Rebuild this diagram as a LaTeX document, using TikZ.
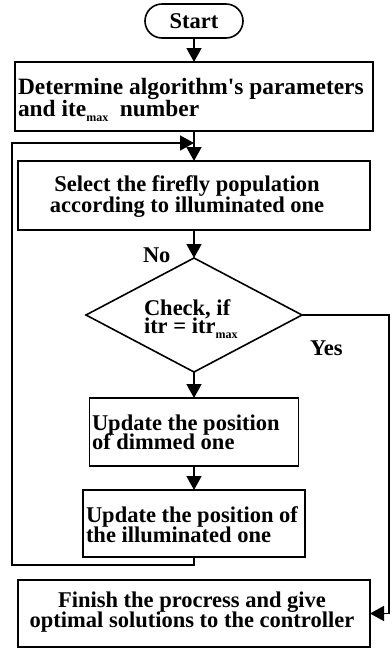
\documentclass[tikz,border=0pt]{standalone}
\usepackage{fontspec}
\setmainfont{Liberation Serif}[Ligatures=TeXOff]
\usetikzlibrary{arrows.meta,shapes.geometric,shapes.misc}
% bold text at a fixed size with an exact line spacing
\newcommand\flowfont[2][22.5]{\bfseries\fontsize{#1}{#2}\selectfont\lineskiplimit=-50pt\lineskip=0pt}
\newcommand\lowsub[1]{\raisebox{-5pt}{\fontsize{12}{12}\selectfont #1}}
\begin{document}
\begin{tikzpicture}[x=1pt,y=-1pt,line width=1.6pt,
  box/.style={draw,rectangle,inner sep=0pt,outer sep=0pt},
  term/.style={draw,rounded rectangle,inner sep=0pt,outer sep=0pt,
    minimum width=98pt,minimum height=34pt,font=\flowfont{22}},
  decision/.style={draw,diamond,inner sep=0pt,outer sep=0pt},
  txt/.style={inner sep=0pt,outer sep=0pt,font=\flowfont{#1}},
  txt/.default=20,
  arr/.style={-{Triangle[length=14pt,width=15pt]}}]
\useasboundingbox (0,0) rectangle (391,648);

% process blocks
\node[term] (start) at (194,21) {Start};
\node[box,minimum width=358pt,minimum height=69pt] (b1) at (194,96.5) {};
\node[box,minimum width=352pt,minimum height=69pt] (b2) at (194,195.5) {};
\node[decision,minimum width=216pt,minimum height=114pt] (dia) at (194,315) {};
\node[box,minimum width=209pt,minimum height=68pt] (b3) at (194,432) {};
\node[box,minimum width=222pt,minimum height=67pt] (b4) at (194,523.5) {};
\node[box,minimum width=352pt,minimum height=67pt] (b5) at (194,613.5) {};

% block texts (placed by the baseline of their last line)
\node[txt,font={\flowfont[23.4]{22}},anchor=base west,align=left] (t1) at (18,116)
  {Determine algorithm's parameters\\and ite\lowsub{max}\ \ number};
\node[txt=21,anchor=base,align=center] (t2) at (187,212)
  {Select the firefly population\\according to illuminated one};
\node[txt=18,anchor=base west,align=left] (t3) at (144,333)
  {Check, if\\itr = itr\lowsub{max}};
\node[txt=19,anchor=base west,align=left] (t4) at (92,449)
  {Update the position\\of dimmed one};
\node[txt=20,anchor=base west,align=left] (t5) at (86,542)
  {Update the position of\\the illuminated one};
\node[txt=20,anchor=base,align=center] (t6) at (192,627)
  {Finish the procress and give\\optimal solutions to the controller};

% branch labels
\node[txt,anchor=base west] (no) at (143,262) {No};
\node[txt,anchor=base west] (yes) at (310,355) {Yes};

% loop and exit corners
\coordinate (loopbot) at (12,565);
\coordinate (looptop) at (12,143);
\coordinate (exitr) at (389,315);

% connectors
\draw[arr] (start) -- (b1);
\draw (b1) -- (b1.south |- looptop);
\draw[arr] (b1.south |- looptop) -- (b2);
\draw[arr] (b2) -- (dia);
\draw[arr] (dia) -- (b3);
\draw[arr] (b3) -- (b4);
\draw[arr] (b4.south) |- (loopbot) |- (b1.south |- looptop);
\draw[arr] (dia.east) -- (exitr) |- (b5.east);
\end{tikzpicture}
\end{document}
